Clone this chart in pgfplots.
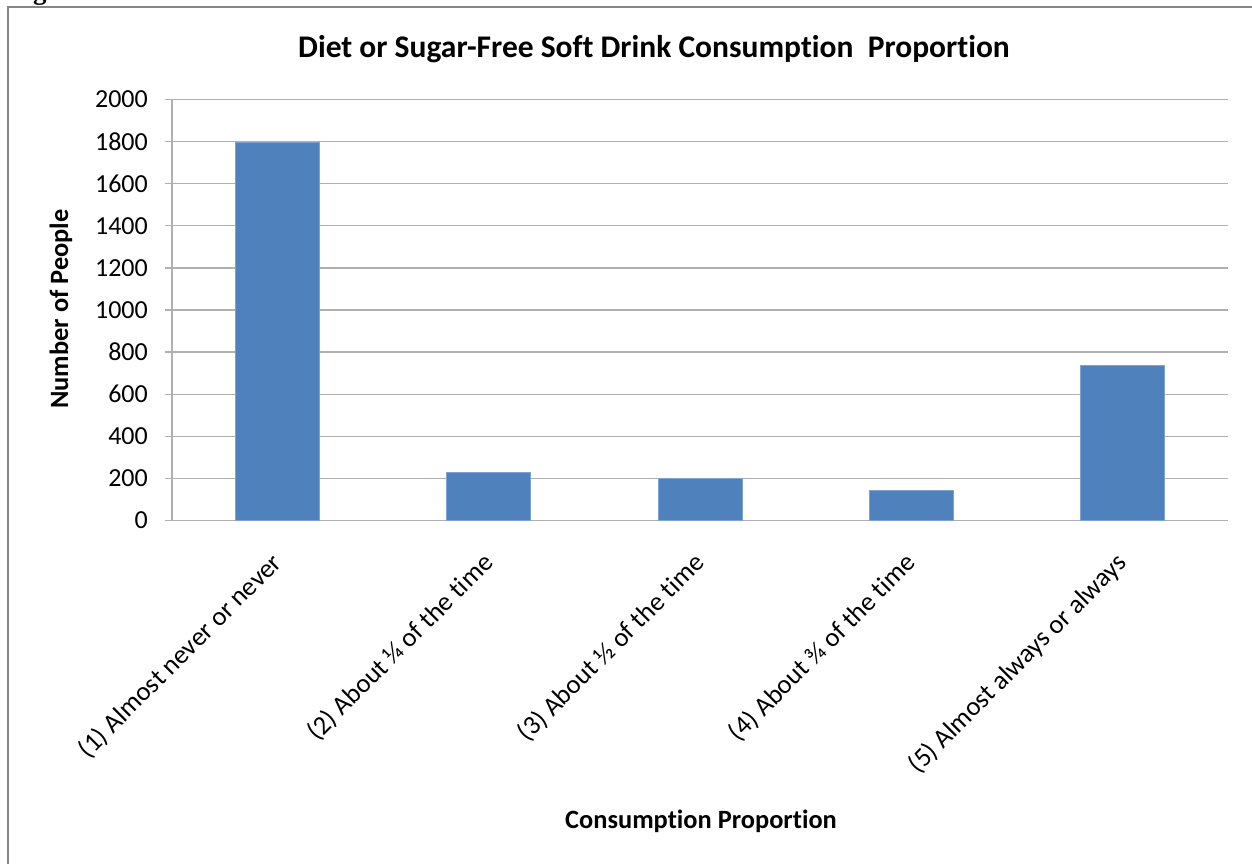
\documentclass[border=0pt]{standalone}
\usepackage{fontspec}
\setmainfont{Carlito}[Ligatures={NoCommon}]
\newfontfamily\captionfont{Liberation Serif}
\usepackage{pgfplots}
\pgfplotsset{compat=1.18}

\definecolor{barblue}{HTML}{4F81BD}
\definecolor{baredge}{HTML}{7EA3D3}
\definecolor{gridgray}{HTML}{B0B0B0}
\definecolor{framegray}{HTML}{868686}

\newcommand{\tickfont}{\fontsize{26}{31}\selectfont}
\newcommand{\catfont}{\fontsize{26.6}{31}\selectfont}
\newcommand{\labelfont}{\bfseries\fontsize{26.4}{31}\selectfont}
\newcommand{\titlefont}{\bfseries\fontsize{31.5}{37}\selectfont}

\begin{document}
\begin{tikzpicture}[x=1pt,y=1pt]
  % page area, one unit per pixel, y running downwards as negative values
  \useasboundingbox (0,0) rectangle (1252,-863);
  \clip (0,0) rectangle (1252,-863);
  \fill[white] (0,0) rectangle (1252,-863);
  \node[anchor=base west, inner sep=0pt, font=\captionfont\bfseries\fontsize{27}{32}\selectfont] at (9,1) {Figure};
  % chart frame
  \draw[framegray, line width=2pt] (8,-900) -- (8,-7) -- (1300,-7);

  \begin{axis}[
    at={(172pt,-520.5pt)}, anchor=south west,
    scale only axis, width=1056pt, height=421pt,
    xmin=-0.5, xmax=4.5, ymin=0, ymax=2000,
    axis x line*=bottom, axis y line*=left,
    axis line style={gridgray, line width=1.3pt, -},
    ymajorgrids, grid style={gridgray, line width=1.3pt},
    ytick={0,200,...,2000},
    tick align=outside, major tick length=7pt,
    ytick style={gridgray, line width=1.3pt},
    xtick style={draw=none},
    xtick=data,
    xticklabels={(1) Almost never or never, (2) About ¼ of the time, (3) About ½ of the time, (4) About ¾ of the time, (5) Almost always or always},
    /pgf/number format/assume math mode=true,
    /pgf/number format/1000 sep={},
    yticklabel style={font=\tickfont, inner sep=0pt, anchor=east, xshift=-17pt},
    xticklabel style={font=\catfont, inner sep=0pt, xshift=-8pt, yshift=-23pt, rotate=45, anchor=north east},
    ybar, bar width=84pt,
  ]
    \addplot[fill=barblue, draw=baredge, line width=0.8pt] coordinates {
      (0,1798) (1,227) (2,200) (3,141) (4,737)
    };
  \end{axis}

  % titles
  \node[anchor=base, font=\titlefont, inner sep=0pt] at (654,-57) {Diet or Sugar-Free Soft Drink Consumption\ \ Proportion};
  \node[anchor=base, font=\labelfont, inner sep=0pt, rotate=90] at (68,-309) {Number of People};
  \node[anchor=base, font=\labelfont, inner sep=0pt] at (701,-828) {Consumption Proportion};
\end{tikzpicture}
\end{document}
